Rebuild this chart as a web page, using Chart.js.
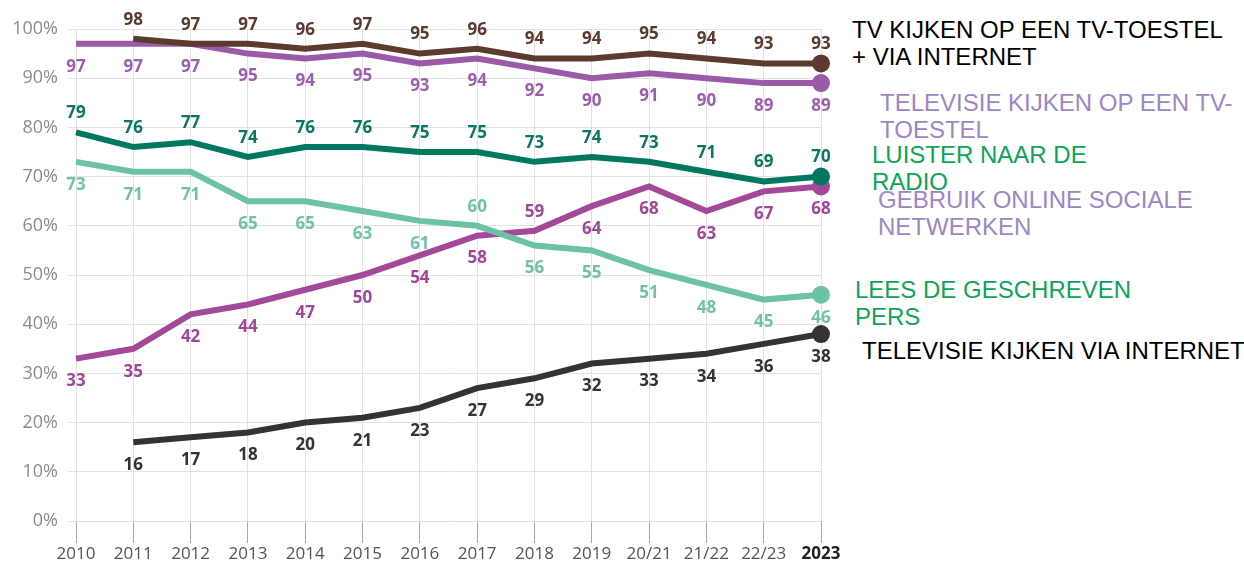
<!DOCTYPE html>
<html>
<head>
<meta charset="utf-8">
<script src="https://cdn.jsdelivr.net/npm/chart.js@4/dist/chart.umd.min.js"></script>
<style>
  body { margin: 0; background: #fff; width: 1244px; height: 567px; overflow: hidden; position: relative; }
  #wrap { position: absolute; left: 0; top: 0; width: 845px; height: 567px; }
  .lbl { position: absolute; font-family: "Liberation Sans", Arial, sans-serif; font-size: 24px; line-height: 27px; white-space: nowrap; }
</style>
</head>
<body>
<div id="wrap"><canvas id="media-graph"></canvas></div>

<div class="lbl" style="left:852px; top:16px; color:#000;">TV KIJKEN OP EEN TV-TOESTEL<br>+ VIA INTERNET</div>
<div class="lbl" style="left:880px; top:89px; color:#9d86c6;">TELEVISIE KIJKEN OP EEN TV-<br>TOESTEL</div>
<div class="lbl" style="left:872px; top:141px; color:#0ea358;">LUISTER NAAR DE<br>RADIO</div>
<div class="lbl" style="left:878px; top:186px; color:#9d86c6;">GEBRUIK ONLINE SOCIALE<br>NETWERKEN</div>
<div class="lbl" style="left:855px; top:276px; color:#0ea358;">LEES DE GESCHREVEN<br>PERS</div>
<div class="lbl" style="left:862px; top:337px; color:#000;">TELEVISIE KIJKEN VIA INTERNET</div>

<script>
let labels = ['2010','2011','2012','2013','2014','2015','2016','2017','2018','2019','20/21','21/22','22/23','2023'];

// DATA (in %)
let tvTotal    = [null,98,97,97,96,97,95,96,94,94,95,94,93,93];
let tvToestel  = [97,97,97,95,94,95,93,94,92,90,91,90,89,89];
let radio      = [79,76,77,74,76,76,75,75,73,74,73,71,69,70];
let pers       = [73,71,71,65,65,63,61,60,56,55,51,48,45,46];
let sociaal    = [33,35,42,44,47,50,54,58,59,64,68,63,67,68];
let tvInternet = [null,16,17,18,20,21,23,27,29,32,33,34,36,38];

let last = labels.length - 1;

function serie(data, colour, textColour, side, flip) {
    return {
        data: data,
        borderColor: colour,
        backgroundColor: colour,
        borderWidth: 6,
        tension: 0,
        pointRadius: function (c) { return c.dataIndex === last ? 6 : 0; },
        pointHoverRadius: 0,
        textColour: textColour,
        side: side,
        flip: flip
    };
}

// value labels next to every point
let valueLabels = {
    id: 'valueLabels',
    afterDatasetsDraw: function (chart) {
        let c = chart.ctx;
        c.save();
        c.font = 'bold 17px "Open Sans"';
        c.textAlign = 'center';
        c.textBaseline = 'middle';
        chart.data.datasets.forEach(function (ds, i) {
            let meta = chart.getDatasetMeta(i);
            meta.data.forEach(function (pt, j) {
                let v = ds.data[j];
                if (v == null) return;
                let above = ds.side === 'above';
                if (ds.flip.indexOf(j) > -1) above = !above;
                c.fillStyle = ds.textColour;
                c.fillText(v, pt.x, pt.y + (above ? -19 : 23));
            });
        });
        c.restore();
    }
};

let ctx = document.querySelector('#media-graph').getContext('2d');

let myChart = new Chart(ctx, {
    type: 'line',
    data: {
        labels: labels,
        datasets: [
            serie(tvTotal,    '#5c3a2e', '#5a3a2e', 'above', []),
            serie(tvToestel,  '#9b5aa8', '#9b5fae', 'below', []),
            serie(radio,      '#00775f', '#0b7760', 'above', []),
            serie(pers,       '#6cc2a6', '#6fc2a8', 'below', [7]),
            serie(sociaal,    '#a4489a', '#a0479a', 'below', [8]),
            serie(tvInternet, '#333333', '#333333', 'below', [])
        ]
    },
    options: {
        responsive: true,
        maintainAspectRatio: false,
        animation: false,
        layout: { padding: { top: 29, right: 24, left: 0, bottom: 0 } },
        plugins: {
            legend: { display: false },
            tooltip: { enabled: false }
        },
        scales: {
            x: {
                offset: false,
                grid: { color: '#e2e2e2', tickColor: '#a8a8a8', tickLength: 22, lineWidth: 1 },
                border: { display: false },
                ticks: {
                    padding: 1,
                    maxRotation: 0,
                    autoSkip: false,
                    font: function (c) {
                        return { family: 'Open Sans', size: 17, weight: c.index === last ? 'bold' : 'normal' };
                    },
                    color: function (c) { return c.index === last ? '#222' : '#555'; }
                },
                afterFit: function (scale) { scale.height = 46; }
            },
            y: {
                min: 0,
                max: 100,
                grid: { color: '#e2e2e2', tickColor: '#e2e2e2', tickLength: 8 },
                border: { display: false },
                ticks: {
                    stepSize: 10,
                    padding: 10,
                    color: '#8c8c8c',
                    font: { family: 'Open Sans', size: 18 },
                    callback: function (v) { return v + '%'; }
                },
                afterFit: function (scale) { scale.width = 76; }
            }
        }
    },
    plugins: [valueLabels]
});
</script>
</body>
</html>
